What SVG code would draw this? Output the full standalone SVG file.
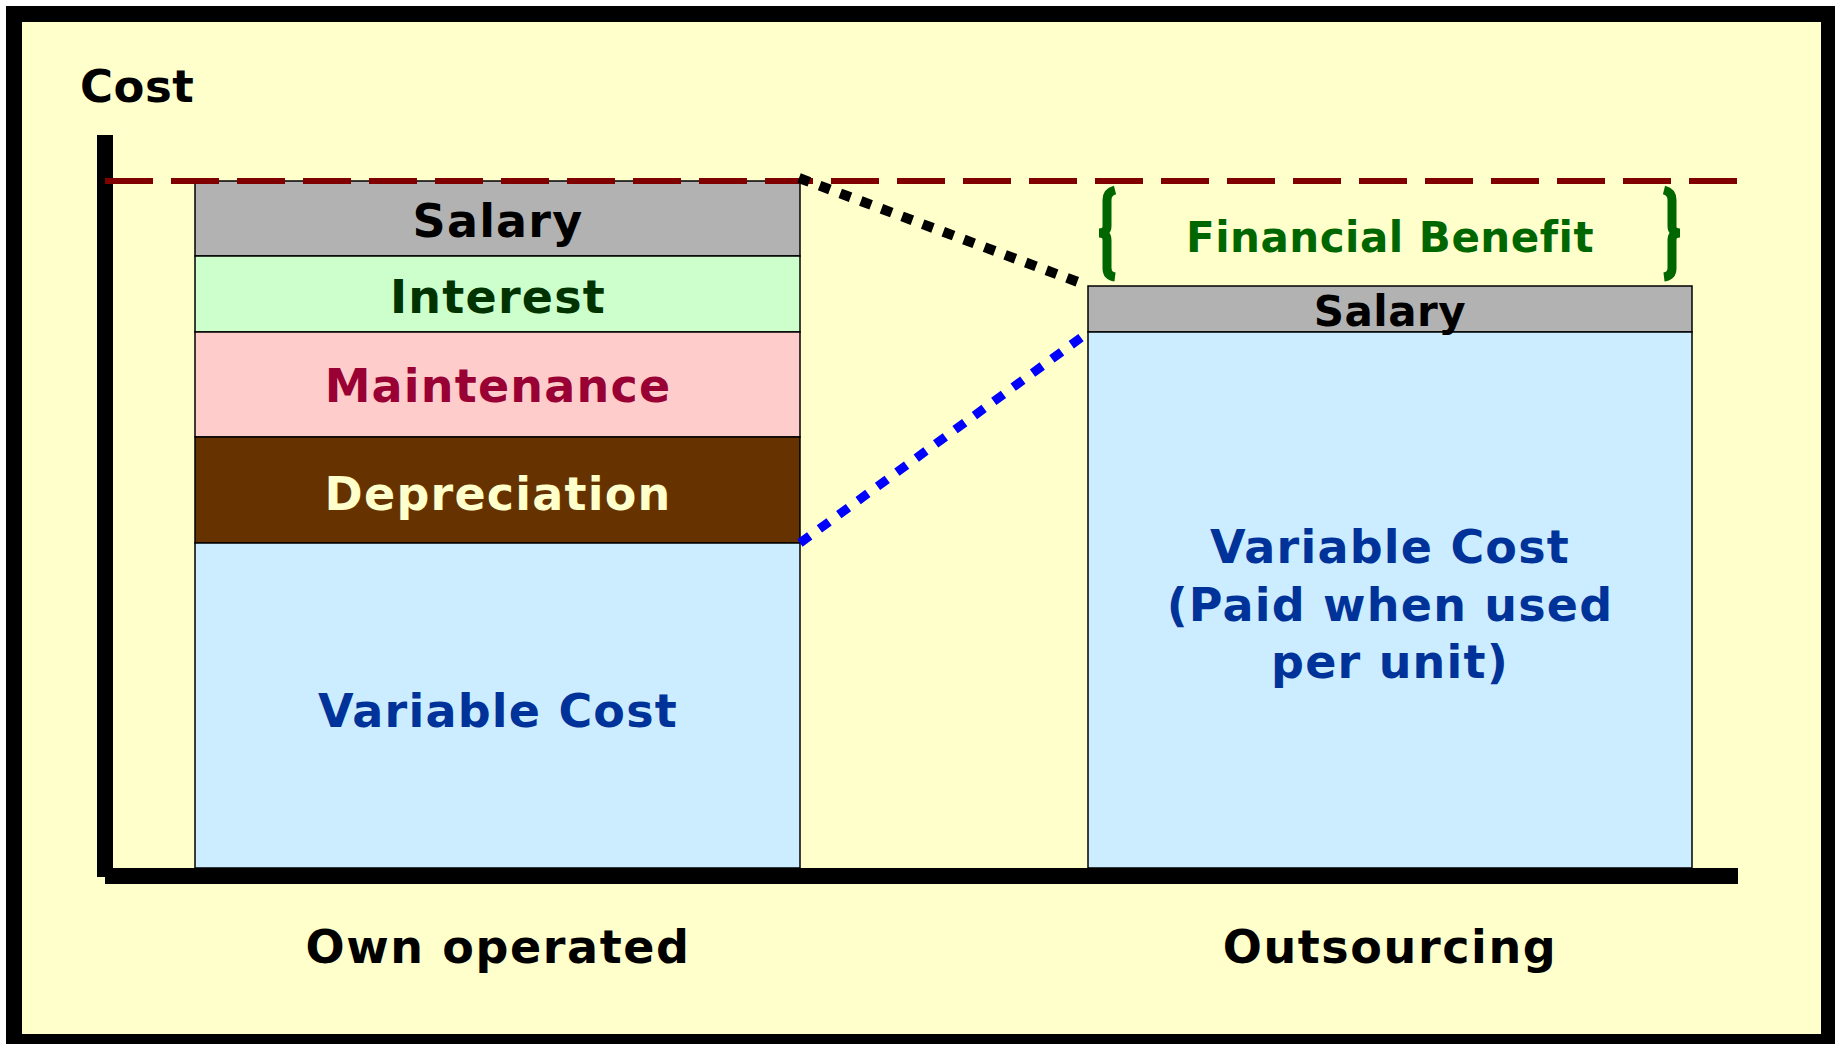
<svg xmlns="http://www.w3.org/2000/svg" width="1835" height="1044" viewBox="0 0 1835 1044">
<style>
text{font-family:"DejaVu Sans","Liberation Sans",sans-serif;font-weight:bold;font-size:46px;text-anchor:middle;letter-spacing:1.2px;font-variant-ligatures:none}
.box{stroke:#000;stroke-width:1.5}
</style>
<rect x="14" y="14" width="1815" height="1028" fill="#FFFFCC" stroke="#000" stroke-width="16"/>
<text x="80" y="102" style="text-anchor:start;font-size:45px;letter-spacing:0.5px" fill="#000">Cost</text>
<g id="axes">
<rect x="97" y="135" width="16" height="742" fill="#000"/>
<rect x="105" y="868" width="1633" height="16" fill="#000"/>
</g>
<g id="own-operated">
<rect class="box" x="195" y="181" width="605" height="75" fill="#B2B2B2"/>
<rect class="box" x="195" y="256" width="605" height="76" fill="#CCFFCC"/>
<rect class="box" x="195" y="332" width="605" height="105" fill="#FFCCCC"/>
<rect class="box" x="195" y="437" width="605" height="106" fill="#663300"/>
<rect class="box" x="195" y="543" width="605" height="325" fill="#CCECFF"/>
<text x="498" y="237" fill="#000">Salary</text>
<text x="498" y="313" fill="#003300">Interest</text>
<text x="498" y="402" fill="#990033">Maintenance</text>
<text x="498" y="510" fill="#FFFFCC">Depreciation</text>
<text x="498" y="727" fill="#003399">Variable Cost</text>
<text x="498" y="963" fill="#000" style="letter-spacing:1.6px">Own operated</text>
</g>
<g id="outsourcing">
<rect class="box" x="1088" y="286" width="604" height="46" fill="#B2B2B2"/>
<rect class="box" x="1088" y="332" width="604" height="536" fill="#CCECFF"/>
<text x="1390" y="326" fill="#000" style="font-size:42px;letter-spacing:0.5px">Salary</text>
<text x="1390" y="563" fill="#003399">Variable Cost</text>
<text x="1390" y="621" fill="#003399">(Paid when used</text>
<text x="1390" y="678" fill="#003399">per unit)</text>
<text x="1390" y="963" fill="#000" style="letter-spacing:1.6px">Outsourcing</text>
</g>
<g id="financial-benefit">
<path d="M1115,190 Q1107,192 1107,200 L1107,226 Q1107,233 1099,233 Q1107,233 1107,240 L1107,268 Q1107,276 1115,277" fill="none" stroke="#006600" stroke-width="9"/>
<path d="M1664,190 Q1672,192 1672,200 L1672,226 Q1672,233 1680,233 Q1672,233 1672,240 L1672,268 Q1672,276 1664,277" fill="none" stroke="#006600" stroke-width="9"/>
<text x="1390" y="252" fill="#006600" style="font-size:42px;letter-spacing:0.5px">Financial Benefit</text>
</g>
<g id="connectors">
<line x1="105" y1="181" x2="1738" y2="181" stroke="#800000" stroke-width="6" stroke-dasharray="48 18"/>
<line x1="799" y1="178" x2="1086" y2="285" stroke="#000" stroke-width="10" stroke-dasharray="11 11"/>
<line x1="800" y1="543" x2="1086" y2="334" stroke="#0000FF" stroke-width="9" stroke-dasharray="12 12"/>
</g>
</svg>
